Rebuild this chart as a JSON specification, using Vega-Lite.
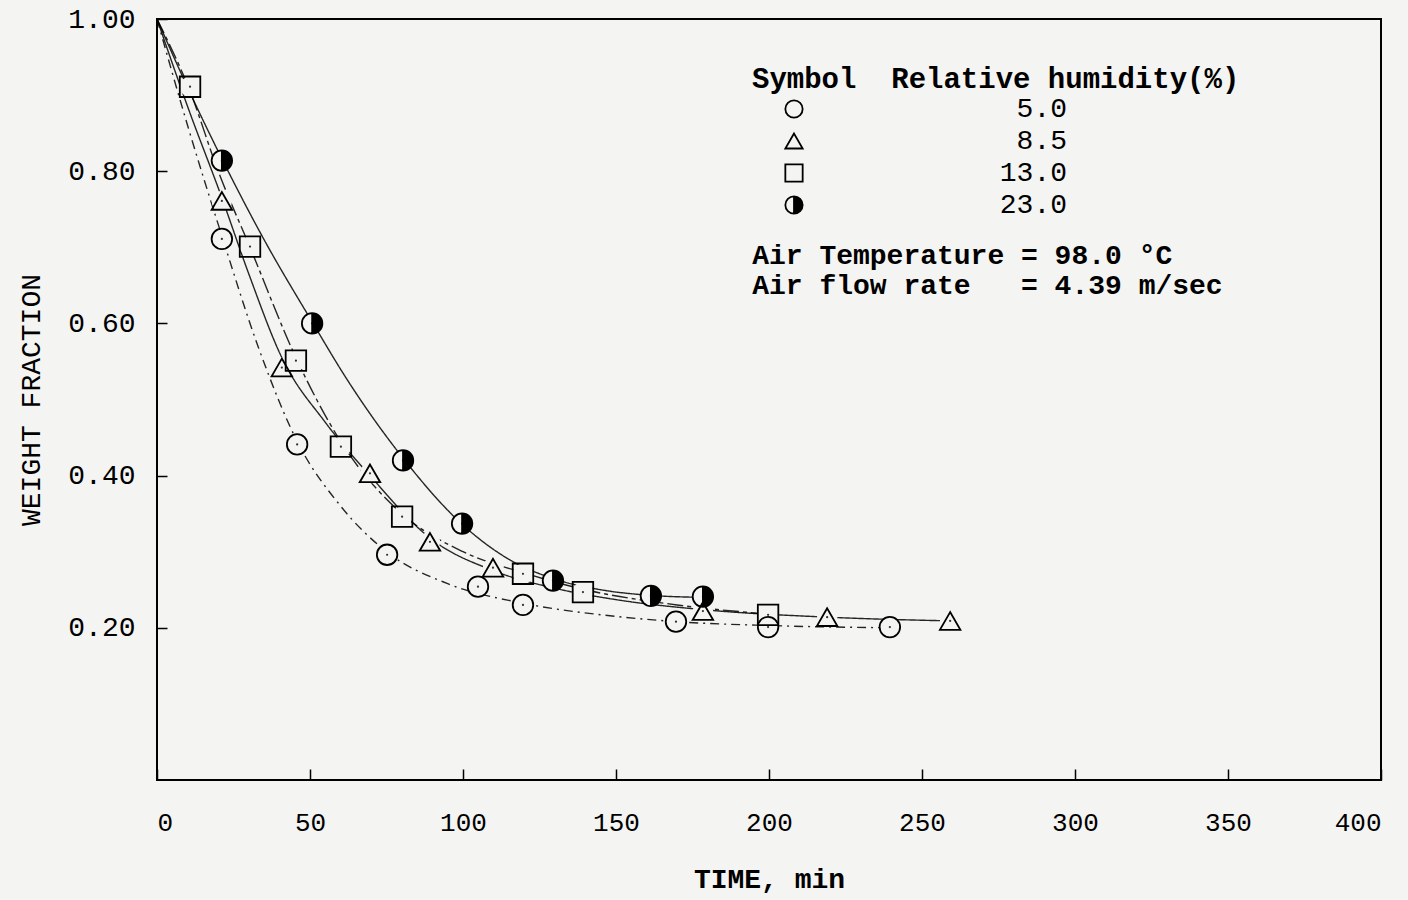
{
  "$schema": "https://vega.github.io/schema/vega-lite/v6.json",
  "width": 1224,
  "height": 761,
  "autosize": "none",
  "padding": {"left": 157, "top": 19, "right": 27, "bottom": 120},
  "background": "#f4f4f2",
  "config": {
    "view": {"stroke": "black", "strokeWidth": 2},
    "axis": {"domain": false, "grid": false, "tickColor": "black", "labelColor": "black", "titleColor": "black", "labelFont": "Liberation Mono", "titleFont": "Liberation Mono"}
  },
  "resolve": {"legend": {"shape": "independent", "strokeDash": "independent"}},
  "datasets": {
    "points": [
      {"t": 21.2, "w": 0.711, "rh": "5.0"},
      {"t": 45.8, "w": 0.441, "rh": "5.0"},
      {"t": 75.2, "w": 0.296, "rh": "5.0"},
      {"t": 104.9, "w": 0.254, "rh": "5.0"},
      {"t": 119.6, "w": 0.230, "rh": "5.0"},
      {"t": 169.6, "w": 0.208, "rh": "5.0"},
      {"t": 199.7, "w": 0.201, "rh": "5.0"},
      {"t": 239.5, "w": 0.201, "rh": "5.0"},
      {"t": 21.2, "w": 0.761, "rh": "8.5"},
      {"t": 40.8, "w": 0.542, "rh": "8.5"},
      {"t": 69.6, "w": 0.403, "rh": "8.5"},
      {"t": 89.2, "w": 0.313, "rh": "8.5"},
      {"t": 109.8, "w": 0.279, "rh": "8.5"},
      {"t": 178.4, "w": 0.222, "rh": "8.5"},
      {"t": 219.0, "w": 0.214, "rh": "8.5"},
      {"t": 259.2, "w": 0.209, "rh": "8.5"},
      {"t": 10.8, "w": 0.911, "rh": "13.0"},
      {"t": 30.4, "w": 0.701, "rh": "13.0"},
      {"t": 45.4, "w": 0.551, "rh": "13.0"},
      {"t": 60.1, "w": 0.438, "rh": "13.0"},
      {"t": 80.1, "w": 0.346, "rh": "13.0"},
      {"t": 119.6, "w": 0.271, "rh": "13.0"},
      {"t": 139.2, "w": 0.247, "rh": "13.0"},
      {"t": 199.7, "w": 0.217, "rh": "13.0"},
      {"t": 21.2, "w": 0.814, "rh": "23.0"},
      {"t": 50.7, "w": 0.600, "rh": "23.0"},
      {"t": 80.4, "w": 0.420, "rh": "23.0"},
      {"t": 99.7, "w": 0.337, "rh": "23.0"},
      {"t": 129.4, "w": 0.262, "rh": "23.0"},
      {"t": 161.4, "w": 0.242, "rh": "23.0"},
      {"t": 178.4, "w": 0.241, "rh": "23.0"}
    ],
    "curves": [
      {"t": 0, "w": 1.0, "curve": "5.0"},
      {"t": 10, "w": 0.86, "curve": "5.0"},
      {"t": 21.2, "w": 0.715, "curve": "5.0"},
      {"t": 33, "w": 0.57, "curve": "5.0"},
      {"t": 45.8, "w": 0.445, "curve": "5.0"},
      {"t": 60, "w": 0.36, "curve": "5.0"},
      {"t": 75, "w": 0.30, "curve": "5.0"},
      {"t": 95, "w": 0.258, "curve": "5.0"},
      {"t": 120, "w": 0.232, "curve": "5.0"},
      {"t": 150, "w": 0.215, "curve": "5.0"},
      {"t": 170, "w": 0.208, "curve": "5.0"},
      {"t": 200, "w": 0.203, "curve": "5.0"},
      {"t": 240, "w": 0.200, "curve": "5.0"},
      {"t": 0, "w": 1.0, "curve": "8.5"},
      {"t": 10, "w": 0.885, "curve": "8.5"},
      {"t": 21.2, "w": 0.765, "curve": "8.5"},
      {"t": 30, "w": 0.665, "curve": "8.5"},
      {"t": 40.8, "w": 0.555, "curve": "8.5"},
      {"t": 55, "w": 0.47, "curve": "8.5"},
      {"t": 69.6, "w": 0.40, "curve": "8.5"},
      {"t": 89.2, "w": 0.318, "curve": "8.5"},
      {"t": 110, "w": 0.275, "curve": "8.5"},
      {"t": 130, "w": 0.252, "curve": "8.5"},
      {"t": 150, "w": 0.237, "curve": "8.5"},
      {"t": 178, "w": 0.224, "curve": "8.5"},
      {"t": 219, "w": 0.214, "curve": "8.5"},
      {"t": 260, "w": 0.209, "curve": "8.5"},
      {"t": 0, "w": 1.0, "curve": "13.0"},
      {"t": 10.8, "w": 0.905, "curve": "13.0"},
      {"t": 20, "w": 0.80, "curve": "13.0"},
      {"t": 30.4, "w": 0.70, "curve": "13.0"},
      {"t": 45.4, "w": 0.555, "curve": "13.0"},
      {"t": 60, "w": 0.445, "curve": "13.0"},
      {"t": 80, "w": 0.35, "curve": "13.0"},
      {"t": 100, "w": 0.30, "curve": "13.0"},
      {"t": 120, "w": 0.272, "curve": "13.0"},
      {"t": 140, "w": 0.25, "curve": "13.0"},
      {"t": 170, "w": 0.23, "curve": "13.0"},
      {"t": 200, "w": 0.218, "curve": "13.0"},
      {"t": 0, "w": 1.0, "curve": "23.0"},
      {"t": 10, "w": 0.91, "curve": "23.0"},
      {"t": 21, "w": 0.818, "curve": "23.0"},
      {"t": 35, "w": 0.71, "curve": "23.0"},
      {"t": 50.7, "w": 0.602, "curve": "23.0"},
      {"t": 62, "w": 0.527, "curve": "23.0"},
      {"t": 80, "w": 0.425, "curve": "23.0"},
      {"t": 100, "w": 0.335, "curve": "23.0"},
      {"t": 115, "w": 0.29, "curve": "23.0"},
      {"t": 130, "w": 0.264, "curve": "23.0"},
      {"t": 145, "w": 0.25, "curve": "23.0"},
      {"t": 160, "w": 0.243, "curve": "23.0"},
      {"t": 178, "w": 0.240, "curve": "23.0"}
    ]
  },
  "layer": [
    {
      "data": {"name": "curves"},
      "mark": {"type": "line", "interpolate": "monotone", "color": "black", "strokeWidth": 1.4, "opacity": 0.85},
      "encoding": {
        "x": {"field": "t", "type": "quantitative", "scale": {"domain": [0, 400], "nice": false},
          "axis": {"values": [0, 50, 100, 150, 200, 250, 300, 350, 400], "tickSize": -11, "tickWidth": 1.5, "labelFontSize": 26, "labelPadding": 40, "title": "TIME, min", "titleFontSize": 28, "titleFontWeight": "bold", "titlePadding": 30}},
        "y": {"field": "w", "type": "quantitative", "scale": {"domain": [0, 1], "nice": false},
          "axis": {"values": [0.2, 0.4, 0.6, 0.8, 1.0], "format": ".2f", "tickSize": -10, "tickWidth": 1.5, "labelFontSize": 28, "labelPadding": 32, "title": "WEIGHT FRACTION", "titleFontSize": 28, "titleFontWeight": "normal", "titlePadding": 22}},
        "detail": {"field": "curve"},
        "strokeDash": {"field": "curve", "type": "nominal", "scale": {"domain": ["5.0", "8.5", "13.0", "23.0"], "range": [[9, 5, 2, 5], [1, 0], [16, 4, 4, 4], [1, 0]]}, "legend": null}
      }
    },
    {
      "data": {"name": "points"},
      "mark": {"type": "point", "shape": "circle", "filled": true, "color": "#f4f4f2", "size": 420, "opacity": 1},
      "encoding": {
        "x": {"field": "t", "type": "quantitative"},
        "y": {"field": "w", "type": "quantitative"}
      }
    },
    {
      "data": {"name": "points"},
      "mark": {"type": "point", "filled": false, "stroke": "black", "strokeWidth": 1.8, "size": 420, "opacity": 1},
      "encoding": {
        "x": {"field": "t", "type": "quantitative"},
        "y": {"field": "w", "type": "quantitative"},
        "shape": {"field": "rh", "type": "nominal",
          "scale": {"domain": ["5.0", "8.5", "13.0", "23.0"], "range": ["circle", "triangle-up", "square", "M-1,0A1,1 0 1,0 1,0A1,1 0 1,0 -1,0M0,-1L0,1M0,-0.88A0.88,0.88 0 0,1 0,0.88M0,-0.76A0.76,0.76 0 0,1 0,0.76M0,-0.64A0.64,0.64 0 0,1 0,0.64M0,-0.52A0.52,0.52 0 0,1 0,0.52M0,-0.4A0.4,0.4 0 0,1 0,0.4M0,-0.28A0.28,0.28 0 0,1 0,0.28M0,-0.16A0.16,0.16 0 0,1 0,0.16"]},
          "legend": {"orient": "none", "legendX": 595, "legendY": 46, "padding": 0,
            "title": "Symbol\u00a0\u00a0Relative humidity(%)", "titleFont": "Liberation Mono", "titleFontSize": 29, "titleFontWeight": "bold", "titleColor": "black", "titlePadding": 1, "titleLimit": 0,
            "labelFont": "Liberation Mono", "labelFontSize": 28, "labelColor": "black", "labelAlign": "right", "labelOffset": 259, "labelLimit": 0,
            "symbolOffset": 28, "symbolSize": 300, "symbolStrokeColor": "black", "symbolStrokeWidth": 1.8, "symbolOpacity": 1, "rowPadding": 4}
        }
      }
    },
    {
      "data": {"name": "points"},
      "mark": {"type": "point", "filled": true, "color": "black", "size": 5, "opacity": 0.8},
      "encoding": {
        "x": {"field": "t", "type": "quantitative"},
        "y": {"field": "w", "type": "quantitative"}
      }
    },
    {
      "data": {"values": [{}]},
      "mark": {"type": "text", "align": "left", "baseline": "middle", "font": "Liberation Mono", "fontSize": 28, "fontWeight": "bold", "color": "black", "lineBreak": "\n", "lineHeight": 30},
      "encoding": {
        "x": {"datum": 194.5, "type": "quantitative"},
        "y": {"datum": 0.6886, "type": "quantitative"},
        "text": {"value": "Air Temperature = 98.0 \u00b0C\nAir flow rate\u00a0\u00a0\u00a0= 4.39 m/sec"}
      }
    }
  ]
}
